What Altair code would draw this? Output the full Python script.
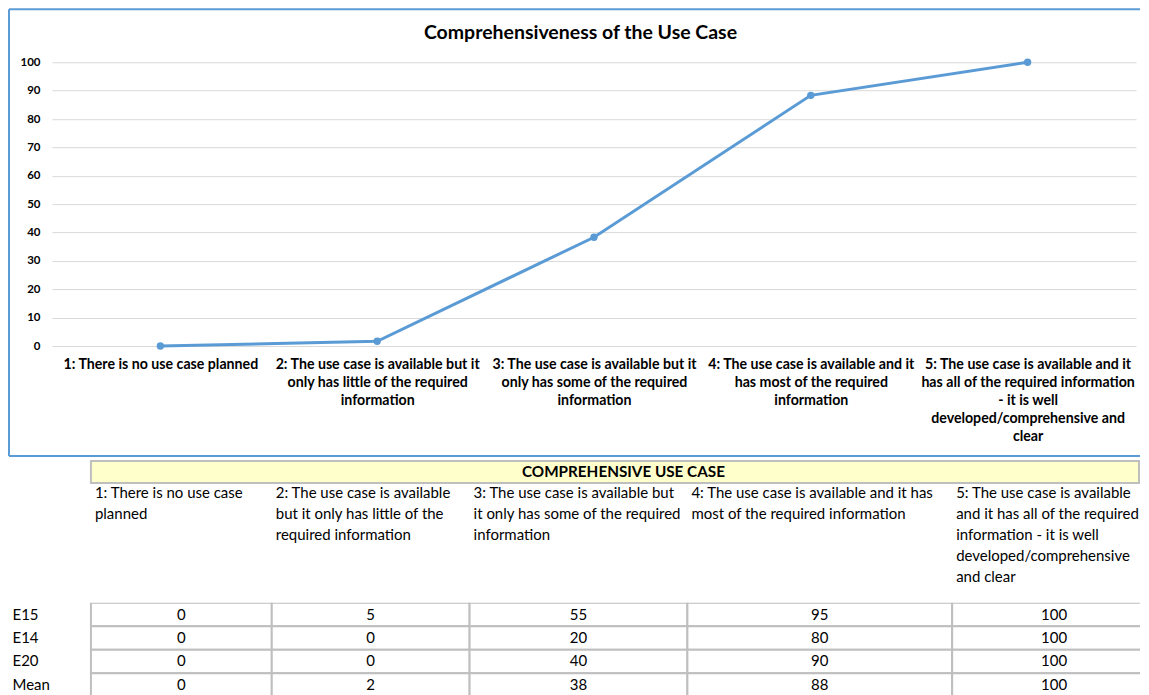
import altair as alt
import pandas as pd
import numpy as np

# ---------------- data ----------------
chart_title = "Comprehensiveness of the Use Case"
table_title = "COMPREHENSIVE USE CASE"

# category labels as wrapped in the chart's x axis
levels_chart = [
    "1: There is no use case planned",
    "2: The use case is available but it\nonly has little of the required\ninformation",
    "3: The use case is available but it\nonly has some of the required\ninformation",
    "4: The use case is available and it\nhas most of the required\ninformation",
    "5: The use case is available and it\nhas all of the required information\n- it is well\ndeveloped/comprehensive and\nclear",
]
# the same categories as wrapped in the table header
levels_table = [
    "1: There is no use case\nplanned",
    "2: The use case is available\nbut it only has little of the\nrequired information",
    "3: The use case is available but\nit only has some of the required\ninformation",
    "4: The use case is available and it has\nmost of the required information",
    "5: The use case is available\nand it has all of the required\ninformation - it is well\ndeveloped/comprehensive\nand clear",
]
experts = ["E15", "E14", "E20"]
e15 = [0, 5, 55, 95, 100]
e14 = [0, 0, 20, 80, 100]
e20 = [0, 0, 40, 90, 100]
y_ticks = [0, 10, 20, 30, 40, 50, 60, 70, 80, 90, 100]

# ---------------- layout / style ----------------
BLUE = "#5B9BD5"
GRID = "#D9D9D9"
CELL = "#BFBFBF"
YELLOW = "#FFFFCC"
FONT = "Lato"
PLOT_W, PLOT_H = 1085, 284
TABLE_W, TABLE_H = 1089, 94
col_edges = [39, 220, 418, 636, 901, 1105]  # table column boundaries

# ---------------- line chart ----------------
series = {"E15": e15, "E14": e14, "E20": e20}
long = pd.DataFrame(
    [{"expert": k, "level": levels_chart[i], "value": v}
     for k, vals in series.items() for i, v in enumerate(vals)]
)

dummy = pd.DataFrame({"d": [0]})
title_df = pd.DataFrame({"label": [chart_title]})

line = alt.Chart(long).mark_line(
    color=BLUE, strokeWidth=3,
    point=alt.OverlayMarkDef(filled=True, size=55, color=BLUE),
).encode(
    x=alt.X("level:N", sort=levels_chart, title=None,
            axis=alt.Axis(labelExpr="split(datum.label, '\\n')", labelAngle=0,
                          labelFont=FONT, labelFontWeight="bold", labelFontSize=14.2,
                          labelColor="#000000", labelLimit=600, labelOverlap=False,
                          labelPadding=12, labelLineHeight=18, ticks=False,
                          domain=False, grid=False)),
    y=alt.Y("mean(value):Q", title=None,
            scale=alt.Scale(domain=[0, 100], nice=False),
            axis=alt.Axis(values=y_ticks, labelFont=FONT, labelFontWeight="bold",
                          labelFontSize=11.5, labelColor="#000000", labelPadding=12,
                          ticks=False, domain=False, gridColor=GRID, gridWidth=1)),
)

frame_top = alt.Chart(dummy).mark_rule(color=BLUE, strokeWidth=2).encode(
    x=alt.value(-43), x2=alt.value(TABLE_W), y=alt.value(-53))
frame_left = alt.Chart(dummy).mark_rule(color=BLUE, strokeWidth=2).encode(
    x=alt.value(-43), y=alt.value(-53), y2=alt.value(394))
frame_bottom = alt.Chart(dummy).mark_rule(color=BLUE, strokeWidth=2).encode(
    x=alt.value(-43), x2=alt.value(TABLE_W), y=alt.value(394))
title_mark = alt.Chart(title_df).mark_text(
    font=FONT, fontSize=19.5, fontWeight="bold", color="#000000", baseline="middle"
).encode(x=alt.value(529), y=alt.value(-29), text="label:N")

top = alt.layer(line, frame_top, frame_left, frame_bottom, title_mark).properties(
    width=PLOT_W, height=PLOT_H)

# ---------------- table ----------------
row_names = experts + ["Mean"]
mean_vals = np.round(np.mean([e15, e14, e20], axis=0)).astype(int).tolist()
table_rows = {"E15": e15, "E14": e14, "E20": e20, "Mean": mean_vals}
tbl = pd.DataFrame(
    [{"row": r, "col": i, "value": v,
      "x0": col_edges[i], "x1": col_edges[i + 1],
      "xm": (col_edges[i] + col_edges[i + 1]) / 2}
     for r in row_names for i, v in enumerate(table_rows[r])]
)
hdr = pd.DataFrame([{"label": levels_table[i], "x0": col_edges[i]} for i in range(5)])
band_df = pd.DataFrame([{"x0": col_edges[0], "x1": TABLE_W - 1,
                         "xm": (col_edges[0] + col_edges[-1]) / 2,
                         "label": table_title}])

xs = alt.Scale(domain=[0, TABLE_W], nice=False, zero=False)
ys = alt.Scale(paddingInner=0, paddingOuter=0)

cells = alt.Chart(tbl).mark_rect(fill="white", stroke=CELL, strokeWidth=2, clip=True).encode(
    x=alt.X("x0:Q", scale=xs, axis=None),
    x2="x1:Q",
    y=alt.Y("row:N", sort=row_names, scale=ys, title=None,
            axis=alt.Axis(domain=False, ticks=False, labelAlign="left", labelPadding=40,
                          labelFont=FONT, labelFontSize=15, labelColor="#000000")),
)
nums = alt.Chart(tbl).mark_text(font=FONT, fontSize=15, color="#000000").encode(
    x=alt.X("xm:Q", scale=xs, axis=None),
    y=alt.Y("row:N", sort=row_names, scale=ys),
    text="value:Q",
)
hdr_text = alt.Chart(hdr).mark_text(
    font=FONT, fontSize=15, color="#000000", align="left", baseline="alphabetic",
    lineBreak="\n", lineHeight=21, dx=4,
).encode(
    x=alt.X("x0:Q", scale=xs, axis=None),
    y=alt.value(-105),
    text="label:N",
)
band = alt.Chart(band_df).mark_rect(fill=YELLOW, stroke=CELL, strokeWidth=2).encode(
    x=alt.X("x0:Q", scale=xs, axis=None), x2="x1:Q",
    y=alt.value(-142), y2=alt.value(-120))
band_text = alt.Chart(band_df).mark_text(
    font=FONT, fontSize=15.3, fontWeight="bold", color="#000000", baseline="middle").encode(
    x=alt.X("xm:Q", scale=xs, axis=None), y=alt.value(-131), text="label:N")

table = alt.layer(cells, nums, hdr_text, band, band_text).properties(
    width=TABLE_W, height=TABLE_H)

chart = alt.vconcat(top, table, spacing=3).properties(
    padding=0, background="white"
).configure_view(stroke=None)

chart.save("out.html", embed_options={"renderer": "svg", "actions": False})
